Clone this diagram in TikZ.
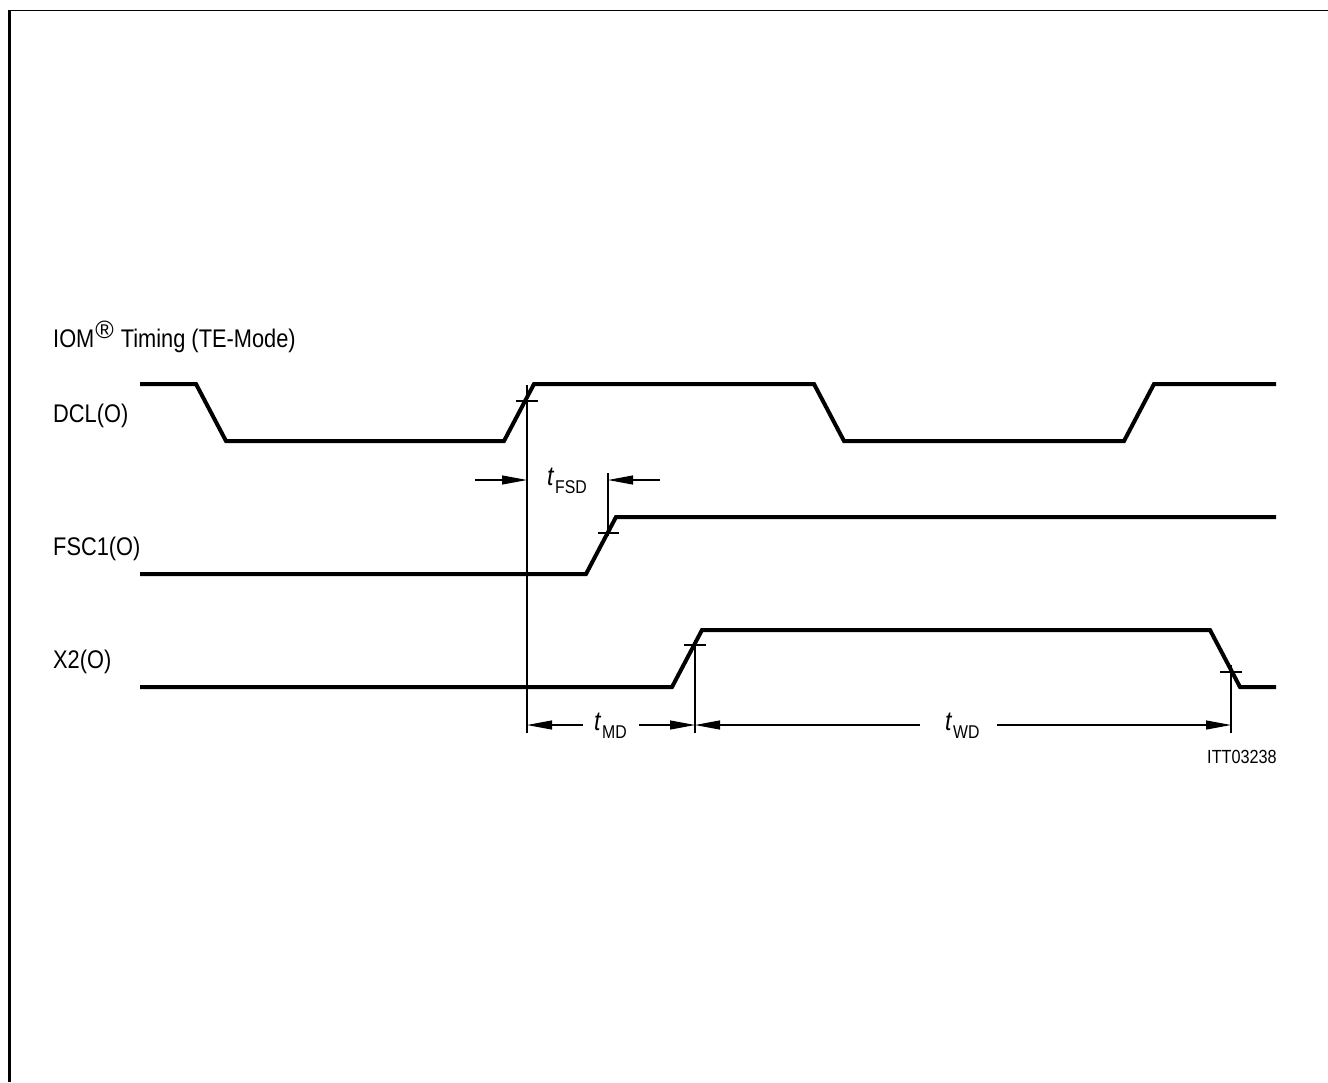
\documentclass[tikz,border=0pt]{standalone}
\usepackage{fontspec}
\setmainfont{Liberation Sans}[FakeStretch=0.855]
\newfontfamily\regfont{Liberation Sans}
\usetikzlibrary{arrows.meta}
\newcommand{\tsub}[1]{{\fontsize{27}{28}\selectfont\itshape t}\hspace{1.5pt}\raisebox{-8pt}{\fontsize{18.5}{19}\selectfont #1}}
\begin{document}
\begin{tikzpicture}[x=1pt,y=-1pt,
  sig/.style={line width=4pt, line join=miter},
  thinline/.style={line width=1.1pt},
  dimarrow/.style={line width=1.1pt, -{Triangle[length=25pt,width=9pt]}},
  lab/.style={font=\fontsize{25.5}{28}\selectfont, anchor=base west, inner sep=0pt},
  tlab/.style={anchor=base west, inner sep=0pt}]
\useasboundingbox (0,0) rectangle (1328,1082);
% frame
\draw[line width=1.3pt] (8,10.5) -- (1328,10.5);
\draw[line width=3pt] (9.5,10) -- (9.5,1082);
% title and labels
\node[lab] (title) at (53,347) {IOM\hspace{1pt}\raisebox{9pt}{\regfont\fontsize{25}{25}\selectfont ®}\hspace{1pt} Timing (TE-Mode)};
\node[lab] (dcl) at (53,422) {DCL(O)};
\node[lab] (fsc) at (53,555) {FSC1(O)};
\node[lab] (xtwo) at (53,668) {X2(O)};
% signals
\draw[sig] (140,384) -- (196,384) -- (226,441) -- (504,441) -- (534,384) -- (814,384)
  -- (844,441) -- (1124,441) -- (1154,384) -- (1276,384);
\draw[sig] (140,574) -- (586,574) -- (616,517) -- (1276,517);
\draw[sig] (140,687) -- (672,687) -- (702,630) -- (1210,630) -- (1240,687) -- (1276,687);
% reference points
\coordinate (pA) at (527,401);
\coordinate (pB) at (608,533);
\coordinate (pC) at (695,645);
\coordinate (pD) at (1231,672);
% ticks
\draw[thinline] ([xshift=-11pt]pA) -- ([xshift=11pt]pA);
\draw[thinline] ([xshift=-10pt]pB) -- ([xshift=11pt]pB);
\draw[thinline] ([xshift=-11pt]pC) -- ([xshift=11pt]pC);
\draw[thinline] ([xshift=-11pt]pD) -- ([xshift=11pt]pD);
% vertical reference lines
\coordinate (vA1) at (527,385); \coordinate (vA2) at (527,733);
\coordinate (vB1) at (608,473); \coordinate (vB2) at (608,536);
\coordinate (vC1) at (695,640); \coordinate (vC2) at (695,733);
\coordinate (vD1) at (1231,665); \coordinate (vD2) at (1231,733);
\draw[thinline] (vA1) -- (vA2);
\draw[thinline] (vB1) -- (vB2);
\draw[thinline] (vC1) -- (vC2);
\draw[thinline] (vD1) -- (vD2);
% tFSD
\coordinate (fsdL) at (475,480); \coordinate (fsdLt) at (527,480);
\coordinate (fsdR) at (660,480); \coordinate (fsdRt) at (608,480);
\draw[dimarrow] (fsdL) -- (fsdLt);
\draw[dimarrow] (fsdR) -- (fsdRt);
\node[tlab] (tfsd) at (547,485) {\tsub{FSD}};
% tMD
\coordinate (mdA) at (583,725); \coordinate (mdAt) at (527,725);
\coordinate (mdB) at (639,725); \coordinate (mdBt) at (695,725);
\draw[dimarrow] (mdA) -- (mdAt);
\draw[dimarrow] (mdB) -- (mdBt);
\node[tlab] (tmd) at (594,730) {\tsub{MD}};
% tWD
\coordinate (wdA) at (920,725); \coordinate (wdAt) at (695,725);
\coordinate (wdB) at (997,725); \coordinate (wdBt) at (1231,725);
\draw[dimarrow] (wdA) -- (wdAt);
\draw[dimarrow] (wdB) -- (wdBt);
\node[tlab] (twd) at (945,730) {\tsub{WD}};
% figure id
\node[anchor=base, inner sep=0pt, font=\fontsize{19}{20}\selectfont] (fig) at (1242,763) {ITT03238};
\end{tikzpicture}
\end{document}
